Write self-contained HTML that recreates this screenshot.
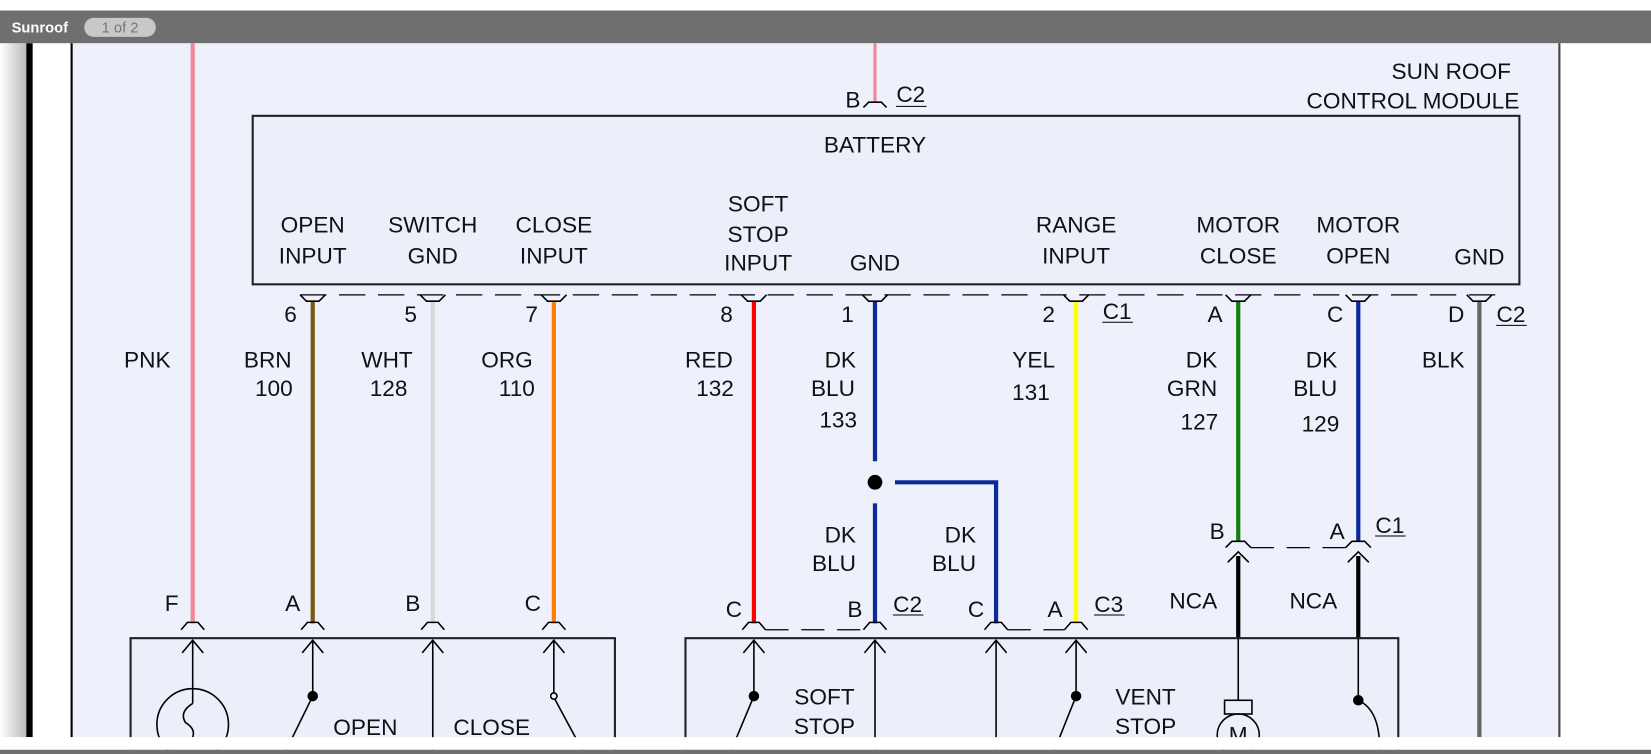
<!DOCTYPE html>
<html><head><meta charset="utf-8"><style>
html,body{margin:0;padding:0;background:#fff;}
svg{display:block;}
text{font-family:"Liberation Sans",Arial,sans-serif;font-size:21.5px;fill:#111;}
</style></head><body>
<svg width="1651" height="754" viewBox="0 0 1568 716" preserveAspectRatio="none" xmlns="http://www.w3.org/2000/svg">
<defs><linearGradient id="lg" x1="0" x2="1"><stop offset="0" stop-color="#fff"/><stop offset="1" stop-color="#bbb"/></linearGradient></defs>
<rect x="0" y="0" width="1568" height="716" fill="#fff"/>
<rect x="0" y="41" width="25" height="659" fill="url(#lg)"/>
<rect x="25" y="41" width="6" height="659" fill="#000"/>
<rect x="68" y="41" width="1413" height="659" fill="#eef0fb"/>
<line x1="68" y1="41" x2="68" y2="700" stroke="#000" stroke-width="2"/>
<line x1="1481" y1="41" x2="1481" y2="700" stroke="#444" stroke-width="2"/>
<rect x="0" y="10" width="1568" height="31" fill="#6e6f6e"/>
<text x="11" y="31" style="font-size:14px;font-weight:bold;fill:#fff">Sunroof</text>
<rect x="80" y="17" width="68" height="18" rx="9" fill="#c8c8c8"/>
<text x="114" y="31" text-anchor="middle" style="font-size:14px;fill:#777">1 of 2</text>

<line x1="831" y1="41" x2="831" y2="97" stroke="#f0879a" stroke-width="3"/>
<path d="M820 102 L825 97 L837 97 L842 102" fill="none" stroke="#000" stroke-width="1.5"/>
<text x="810" y="102" text-anchor="middle">B</text>
<text x="865" y="97" text-anchor="middle">C2</text><line x1="851" y1="101" x2="880" y2="101" stroke="#000"/>
<text x="1435" y="75" text-anchor="end">SUN ROOF</text>
<text x="1443" y="103" text-anchor="end">CONTROL MODULE</text>

<rect x="240" y="110" width="1203" height="160" fill="#eceefa" stroke="#222" stroke-width="2"/>
<g text-anchor="middle">
<text x="831" y="145">BATTERY</text>
<text x="297" y="221">OPEN</text><text x="297" y="250">INPUT</text>
<text x="411" y="221">SWITCH</text><text x="411" y="250">GND</text>
<text x="526" y="221">CLOSE</text><text x="526" y="250">INPUT</text>
<text x="720" y="201">SOFT</text><text x="720" y="230">STOP</text><text x="720" y="257">INPUT</text>
<text x="831" y="257">GND</text>
<text x="1022" y="221">RANGE</text><text x="1022" y="250">INPUT</text>
<text x="1176" y="221">MOTOR</text><text x="1176" y="250">CLOSE</text>
<text x="1290" y="221">MOTOR</text><text x="1290" y="250">OPEN</text>
<text x="1405" y="251">GND</text>
</g>
<line x1="285" y1="280" x2="1430" y2="280" stroke="#000" stroke-width="1.2" stroke-dasharray="25,12"/>

<g stroke-width="4" fill="none">
<line x1="183" y1="41" x2="183" y2="592" stroke="#f0879a"/>
<line x1="297" y1="286" x2="297" y2="592" stroke="#7a5a10"/>
<line x1="411" y1="286" x2="411" y2="592" stroke="#d8d8d8"/>
<line x1="526" y1="286" x2="526" y2="592" stroke="#ff8000"/>
<line x1="716" y1="286" x2="716" y2="592" stroke="#ff0000"/>
<line x1="831" y1="286" x2="831" y2="438" stroke="#0a2a9a"/>
<line x1="831" y1="478" x2="831" y2="592" stroke="#0a2a9a"/>
<polyline points="850,458 946,458 946,592" stroke="#0a2a9a"/>
<line x1="1022" y1="286" x2="1022" y2="592" stroke="#ffff00"/>
<line x1="1176" y1="286" x2="1176" y2="514" stroke="#108010"/>
<line x1="1290" y1="286" x2="1290" y2="514" stroke="#0a2a9a"/>
<line x1="1405" y1="286" x2="1405" y2="700" stroke="#666"/>
<line x1="1176" y1="528" x2="1176" y2="606" stroke="#000"/>
<line x1="1290" y1="528" x2="1290" y2="606" stroke="#000"/>
</g>
<circle cx="831" cy="458" r="7" fill="#000"/>

<g fill="none" stroke="#000" stroke-width="1.5">
<path d="M285 280 L291 286 L303 286 L309 280"/>
<path d="M399 280 L405 286 L417 286 L423 280"/>
<path d="M514 280 L520 286 L532 286 L538 280"/>
<path d="M704 280 L710 286 L722 286 L728 280"/>
<path d="M819 280 L825 286 L837 286 L843 280"/>
<path d="M1010 280 L1016 286 L1028 286 L1034 280"/>
<path d="M1164 280 L1170 286 L1182 286 L1188 280"/>
<path d="M1278 280 L1284 286 L1296 286 L1302 280"/>
<path d="M1393 280 L1399 286 L1411 286 L1417 280"/>
</g>
<g text-anchor="middle">
<text x="276" y="306">6</text><text x="390" y="306">5</text><text x="505" y="306">7</text>
<text x="690" y="306">8</text><text x="805" y="306">1</text><text x="996" y="306">2</text>
<text x="1154" y="306">A</text><text x="1268" y="306">C</text><text x="1383" y="306">D</text>
<text x="1061" y="303">C1</text><text x="1435" y="306">C2</text>
</g>
<line x1="1047" y1="306" x2="1076" y2="306" stroke="#000"/>
<line x1="1421" y1="309" x2="1450" y2="309" stroke="#000"/>

<g text-anchor="end">
<text x="162" y="349">PNK</text>
<text x="277" y="349">BRN</text><text x="278" y="376">100</text>
<text x="392" y="349">WHT</text><text x="387" y="376">128</text>
<text x="506" y="349">ORG</text><text x="508" y="376">110</text>
<text x="696" y="349">RED</text><text x="697" y="376">132</text>
<text x="813" y="349">DK</text><text x="812" y="376">BLU</text><text x="814" y="406">133</text>
<text x="1002" y="349">YEL</text><text x="997" y="380">131</text>
<text x="1156" y="349">DK</text><text x="1156" y="376">GRN</text><text x="1157" y="408">127</text>
<text x="1270" y="349">DK</text><text x="1270" y="376">BLU</text><text x="1272" y="410">129</text>
<text x="1391" y="349">BLK</text>
<text x="813" y="515">DK</text><text x="813" y="542">BLU</text>
<text x="927" y="515">DK</text><text x="927" y="542">BLU</text>
<text x="1156" y="578">NCA</text><text x="1270" y="578">NCA</text>
</g>

<line x1="1188" y1="520" x2="1278" y2="520" stroke="#000" stroke-width="1.2" stroke-dasharray="22,12"/>
<g fill="none" stroke="#000" stroke-width="1.5">
<path d="M1164 520 L1170 514 L1182 514 L1188 520"/>
<path d="M1278 520 L1284 514 L1296 514 L1302 520"/>
<path d="M1166 534 L1176 524 L1186 534"/>
<path d="M1280 534 L1290 524 L1300 534"/>
</g>
<g text-anchor="middle"><text x="1156" y="512">B</text><text x="1270" y="512">A</text><text x="1320" y="506">C1</text></g>
<line x1="1306" y1="509" x2="1335" y2="509" stroke="#000"/>

<line x1="727" y1="598" x2="820" y2="598" stroke="#000" stroke-width="1.2" stroke-dasharray="22,12"/>
<line x1="957" y1="598" x2="1011" y2="598" stroke="#000" stroke-width="1.2" stroke-dasharray="22,12"/>
<g fill="none" stroke="#000" stroke-width="1.5">
<path d="M172 598 L178 591 L188 591 L194 598"/>
<path d="M286 598 L292 591 L302 591 L308 598"/>
<path d="M400 598 L406 591 L416 591 L422 598"/>
<path d="M515 598 L521 591 L531 591 L537 598"/>
<path d="M705 598 L711 591 L721 591 L727 598"/>
<path d="M820 598 L826 591 L836 591 L842 598"/>
<path d="M935 598 L941 591 L951 591 L957 598"/>
<path d="M1011 598 L1017 591 L1027 591 L1033 598"/>
</g>
<g text-anchor="middle">
<text x="163" y="580">F</text><text x="278" y="580">A</text><text x="392" y="580">B</text><text x="506" y="580">C</text>
<text x="697" y="586">C</text><text x="812" y="586">B</text><text x="862" y="581">C2</text>
<text x="927" y="586">C</text><text x="1002" y="586">A</text><text x="1053" y="581">C3</text>
</g>
<line x1="848" y1="584" x2="877" y2="584" stroke="#000"/>
<line x1="1039" y1="584" x2="1068" y2="584" stroke="#000"/>

<rect x="124" y="606" width="460" height="110" fill="#eceefa" stroke="#222" stroke-width="2"/>
<rect x="651" y="606" width="677" height="110" fill="#eceefa" stroke="#222" stroke-width="2"/>
<g fill="none" stroke="#000" stroke-width="1.5">
<path d="M173 620 L183 608 L193 620 M183 608 L183 668"/>
<circle cx="183" cy="688" r="34"/>
<path d="M183 668 Q170 676 176 686 Q186 692 183 700"/>
<path d="M287 620 L297 608 L307 620 M297 608 L297 661 L270 716"/>
<path d="M401 620 L411 608 L421 620 M411 608 L411 716"/>
<path d="M516 620 L526 608 L536 620 M526 608 L526 658"/>
<circle cx="526" cy="661" r="3"/>
<path d="M527 664 L555 716"/>
<path d="M706 620 L716 608 L726 620 M716 608 L716 661 L693 716"/>
<path d="M821 620 L831 608 L841 620 M831 608 L831 716"/>
<path d="M936 620 L946 608 L956 620 M946 608 L946 716"/>
<path d="M1012 620 L1022 608 L1032 620 M1022 608 L1022 661 L1000 716"/>
<path d="M1176 606 L1176 665"/>
<rect x="1163" y="665" width="26" height="13"/>
<circle cx="1176" cy="698" r="20"/>
<path d="M1290 606 L1290 665 Q1312 675 1310 716"/>
</g>
<circle cx="297" cy="661" r="5" fill="#000"/>
<circle cx="716" cy="661" r="5" fill="#000"/>
<circle cx="1022" cy="661" r="5" fill="#000"/>
<circle cx="1290" cy="665" r="5" fill="#000"/>
<text x="1176" y="705" text-anchor="middle">M</text>
<g text-anchor="middle">
<text x="347" y="698">OPEN</text><text x="467" y="698">CLOSE</text>
<text x="783" y="669">SOFT</text><text x="783" y="697">STOP</text>
<text x="1088" y="669">VENT</text><text x="1088" y="697">STOP</text>
</g>
<rect x="0" y="700" width="1568" height="12" fill="#fff"/>
<rect x="0" y="712" width="1568" height="4" fill="#6e6f6e"/>
</svg>
</body></html>
